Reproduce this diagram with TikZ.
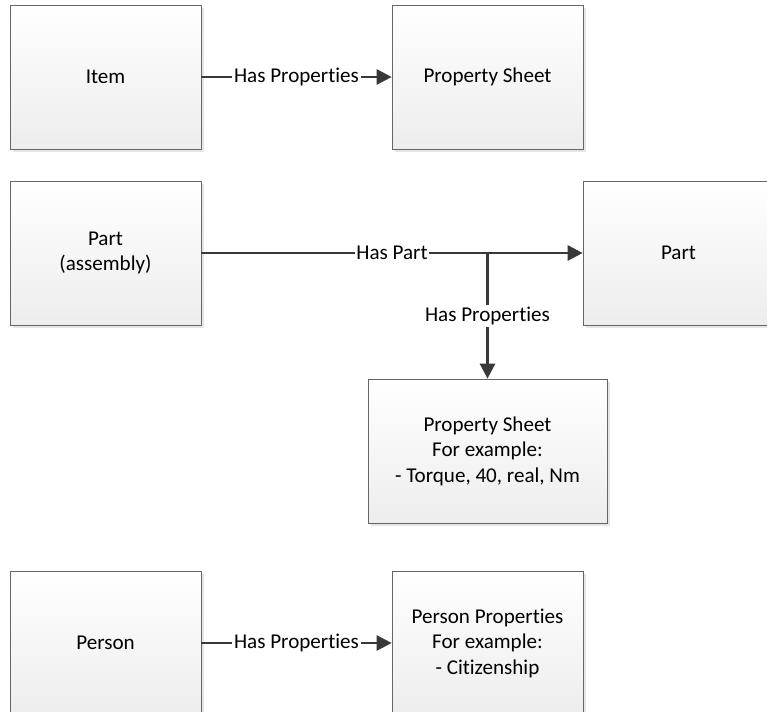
\documentclass[tikz,border=0pt]{standalone}
\usepackage{fontspec}
\setmainfont{Carlito}[Ligatures=NoCommon]
\usetikzlibrary{arrows.meta}
\usetikzlibrary{shadows}

\tikzset{
  entity/.style={draw=black!60, top color=white, bottom color=black!7,
    minimum width=3.82cm, minimum height=2.88cm, align=center,
    font=\fontsize{12}{14.5}\selectfont,
    drop shadow={shadow xshift=0.06cm, shadow yshift=-0.06cm, fill=black!10, opacity=1}},
  rel/.style={draw=black!78, line width=1.5pt, -{Triangle[length=0.3cm,width=0.3cm]}},
  lbl/.style={fill=white, inner sep=1pt, text=black, font=\fontsize{12}{14.5}\selectfont}
}

\begin{document}
\begin{tikzpicture}[x=0.02cm,y=-0.02cm]

% page frame
\clip (0,0) rectangle (767,712);
\fill[white] (0,0) rectangle (767,712);

% first row
\node[entity] (item) at (105.5,77) {Item};
\node[entity] (itemsheet) at (487.5,77) {Property Sheet};
\draw[rel] (item.east) -- (itemsheet.west) node[lbl,midway] {Has Properties};

% second row
\node[entity] (assembly) at (105.5,253) {Part\\(assembly)};
\node[entity] (part) at (678.5,253) {Part};
\node[entity, minimum width=4.78cm] (partsheet) at (487.5,451)
  {Property Sheet\\For example:\\- Torque, 40, real, Nm};
\coordinate (branch) at (487.5,253);
\draw[rel] (assembly.east) -- (part.west) node[lbl,pos=0.5] {Has Part};
\draw[rel] (branch) -- (partsheet.north) node[lbl,midway] {Has Properties};

% third row
\node[entity] (person) at (105.5,643) {Person};
\node[entity] (personsheet) at (487.5,643)
  {Person Properties\\For example:\\- Citizenship};
\draw[rel] (person.east) -- (personsheet.west) node[lbl,midway] {Has Properties};

\end{tikzpicture}
\end{document}
